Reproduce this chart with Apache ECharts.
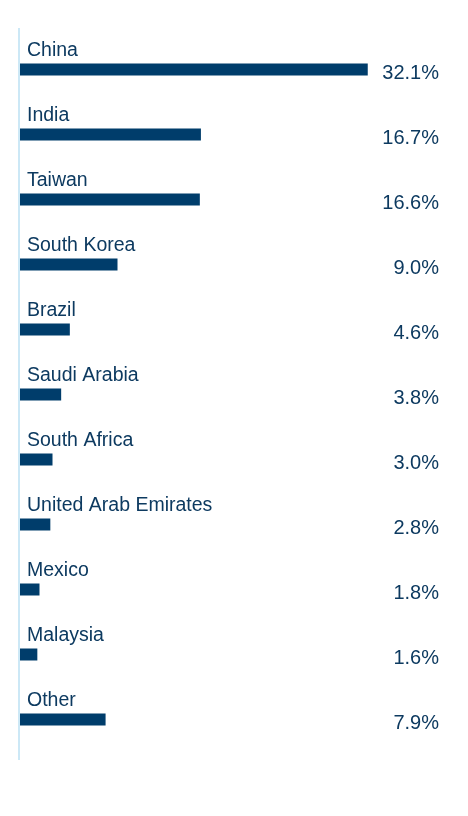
<!DOCTYPE html>
<html>
<head>
<meta charset="utf-8">
<script src="https://cdn.jsdelivr.net/npm/echarts@6/dist/echarts.min.js"></script>
<style>
  html, body { margin: 0; padding: 0; background: #fff; }
  #chart { width: 468px; height: 816px; }
</style>
</head>
<body>
<div id="chart"></div>
<script>
// country weights
var countries = ['China', 'India', 'Taiwan', 'South Korea', 'Brazil', 'Saudi Arabia',
    'South Africa', 'United Arab Emirates', 'Mexico', 'Malaysia', 'Other'];
var weights = [32.1, 16.7, 16.6, 9.0, 4.6, 3.8, 3.0, 2.8, 1.8, 1.6, 7.9];
var weightLabels = ['32.1%', '16.7%', '16.6%', '9.0%', '4.6%', '3.8%', '3.0%', '2.8%', '1.8%', '1.6%', '7.9%'];

var navy = '#003d6b';
var textColor = '#0d3a60';
var fontFamily = 'Liberation Sans, Arial, sans-serif';

var myChart = echarts.init(document.getElementById('chart'));

var option = {
    animation: false,
    grid: {
        left: 20,
        width: 390,
        top: 37,
        height: 715
    },
    xAxis: {
        type: 'value',
        min: 0,
        max: 36,
        show: false
    },
    yAxis: [{
        type: 'category',
        inverse: true,
        data: countries,
        axisLine: { show: false },
        axisTick: { show: false },
        axisLabel: { show: false }
    }, {
        type: 'category',
        inverse: true,
        position: 'right',
        data: weightLabels,
        axisLine: { show: false },
        axisTick: { show: false },
        axisLabel: {
            align: 'right',
            margin: 29,
            // push the percentages a little below the bar centre
            formatter: function (v) { return '{v|' + v + '}'; },
            rich: {
                v: {
                    color: textColor,
                    fontSize: 20,
                    fontFamily: fontFamily,
                    padding: [7, 0, 0, 0]
                }
            }
        }
    }],
    // left rule runs a bit past the bars top and bottom
    graphic: [{
        type: 'line',
        shape: { x1: 19, y1: 28, x2: 19, y2: 760 },
        style: { stroke: '#cce8f6', lineWidth: 2 }
    }],
    series: [{
        type: 'bar',
        data: weights,
        barWidth: 12,
        itemStyle: { color: navy },
        label: {
            show: true,
            position: [7, -13],
            verticalAlign: 'middle',
            formatter: '{b}',
            color: textColor,
            fontSize: 19.5,
            fontFamily: fontFamily
        }
    }]
};

myChart.setOption(option);
</script>
</body>
</html>
